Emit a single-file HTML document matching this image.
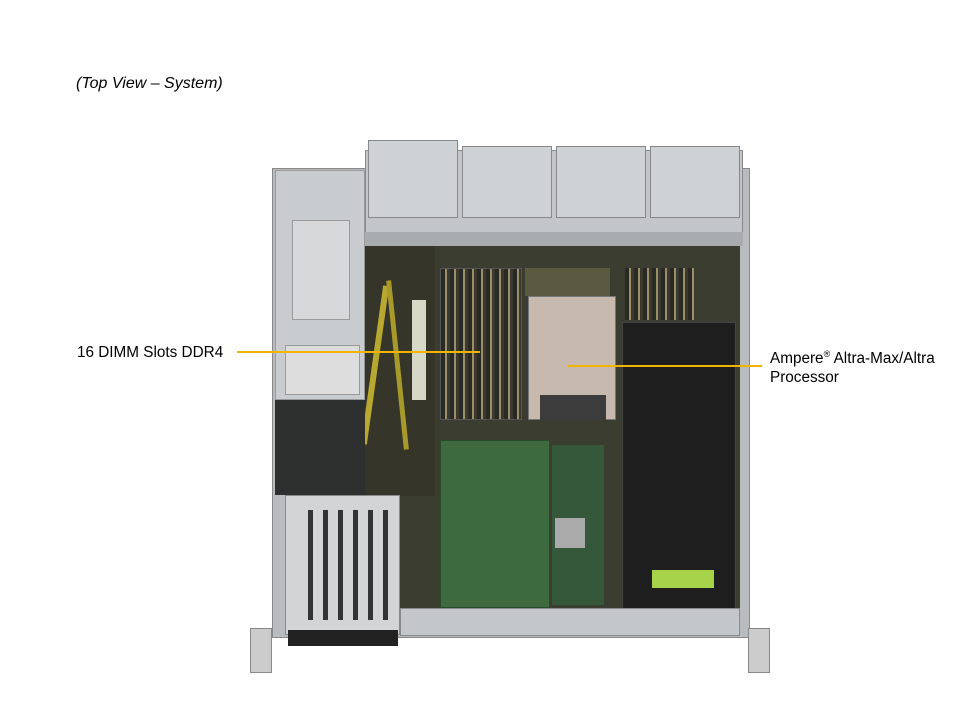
<!DOCTYPE html>
<html><head><meta charset="utf-8"><style>
body{margin:0;width:960px;height:720px;background:#fff;position:relative;overflow:hidden;font-family:"Liberation Sans",Arial,sans-serif}
div{position:absolute;box-sizing:border-box}
.t{font-size:15.3px;color:#000;white-space:nowrap}
</style></head><body>
<div class="t" style="left:76px;top:75px;font-style:italic;font-size:16px">(Top View – System)</div>

<div style="left:272px;top:168px;width:478px;height:470px;background:#b9bcbf;border:1px solid #888"></div>
<div style="left:275px;top:170px;width:90px;height:230px;background:#c9cccf;border:1px solid #999"></div>
<div style="left:292px;top:220px;width:58px;height:100px;background:#d6d8da;border:1px solid #9a9a9a"></div>
<div style="left:285px;top:345px;width:75px;height:50px;background:#ddd;border:1px solid #999"></div>
<div style="left:365px;top:150px;width:378px;height:95px;background:#c3c6c9;border:1px solid #8a8a8a"></div>
<div style="left:368px;top:140px;width:90px;height:78px;background:#cfd2d5;border:1px solid #888"></div>
<div style="left:462px;top:146px;width:90px;height:72px;background:#cfd2d5;border:1px solid #888"></div>
<div style="left:556px;top:146px;width:90px;height:72px;background:#cfd2d5;border:1px solid #888"></div>
<div style="left:650px;top:146px;width:90px;height:72px;background:#cfd2d5;border:1px solid #888"></div>
<div style="left:365px;top:232px;width:378px;height:14px;background:#a9acaf"></div>
<div style="left:365px;top:246px;width:375px;height:362px;background:#3a3d30"></div>
<div style="left:365px;top:246px;width:70px;height:250px;background:#35352a"></div>
<div style="left:372px;top:285px;width:6px;height:160px;background:#b8a830;transform:rotate(8deg)"></div>
<div style="left:395px;top:280px;width:5px;height:170px;background:#a89a2a;transform:rotate(-6deg)"></div>
<div style="left:412px;top:300px;width:14px;height:100px;background:#d8d8c8"></div>
<div style="left:275px;top:400px;width:90px;height:95px;background:#2e3030"></div>
<div style="left:440px;top:268px;width:82px;height:152px;background:repeating-linear-gradient(90deg,#2a2a24 0 4px,#9a8f6a 4px 6px,#3b3a30 6px 9px);border:1px solid #555"></div>
<div style="left:625px;top:268px;width:70px;height:52px;background:repeating-linear-gradient(90deg,#2a2a24 0 4px,#9a8f6a 4px 6px,#3b3a30 6px 9px)"></div>
<div style="left:525px;top:268px;width:85px;height:28px;background:#5a5a40"></div>
<div style="left:528px;top:296px;width:88px;height:124px;background:#c8b9ae;border:1px solid #777"></div>
<div style="left:540px;top:395px;width:66px;height:25px;background:#3c3c3c"></div>
<div style="left:622px;top:322px;width:114px;height:288px;background:#1e1e1e;border:1px solid #444"></div>
<div style="left:652px;top:570px;width:62px;height:18px;background:#a7d34a"></div>
<div style="left:440px;top:440px;width:110px;height:168px;background:#3d6b3f;border:1px solid #2a4a2a"></div>
<div style="left:552px;top:445px;width:52px;height:160px;background:#35583a"></div>
<div style="left:555px;top:518px;width:30px;height:30px;background:#aaa"></div>
<div style="left:285px;top:495px;width:115px;height:140px;background:#d2d4d6;border:1px solid #888"></div>
<div style="left:298px;top:510px;width:90px;height:110px;background:repeating-linear-gradient(90deg,#d2d4d6 0 10px,#333 10px 15px)"></div>
<div style="left:288px;top:630px;width:110px;height:16px;background:#222"></div>
<div style="left:400px;top:608px;width:340px;height:28px;background:#c4c7ca;border:1px solid #888"></div>
<div style="left:250px;top:628px;width:22px;height:45px;background:#ccc;border:1px solid #888"></div>
<div style="left:748px;top:628px;width:22px;height:45px;background:#ccc;border:1px solid #888"></div>
<div class="t" style="left:77px;top:344px">16 DIMM Slots DDR4</div>
<div style="left:237px;top:351px;width:243px;height:2px;background:#f2b400"></div>
<div class="t" style="left:770px;top:349px">Ampere<sup style="font-size:9px">®</sup> Altra-Max/Altra</div>
<div class="t" style="left:770px;top:369px">Processor</div>
<div style="left:568px;top:365px;width:194px;height:2px;background:#f2b400"></div>
</body></html>
